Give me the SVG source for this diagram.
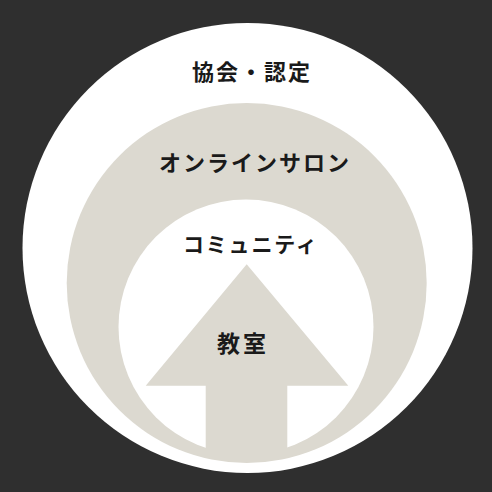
<svg xmlns="http://www.w3.org/2000/svg" width="492" height="492" viewBox="0 0 492 492">
<style>
.t{font-family:"Noto Sans CJK JP","Noto Sans",sans-serif;font-weight:700;font-size:22px;fill:#1a1a1a;letter-spacing:2px}
.beige{fill:#dcd9d0}
.white{fill:#ffffff}
</style>
<rect width="492" height="492" fill="#2f2f2f"/>
<g id="association">
<circle class="white" cx="247.5" cy="248" r="225"/>
<text class="t" x="192" y="80">協会・認定</text>
</g>
<g id="online-salon">
<circle class="beige" cx="246.7" cy="283" r="180"/>
<text class="t" x="159" y="171">オンラインサロン</text>
</g>
<g id="community">
<circle class="white" cx="246" cy="327" r="127.5"/>
<text class="t" x="183" y="252" style="font-size:21px;letter-spacing:1.8px">コミュニティ</text>
</g>
<g id="classroom">
<polygon class="beige" points="246.7,264.3 348.3,385.7 287.3,385.7 287.3,455 205.7,455 205.7,385.7 145.7,385.7"/>
<text class="t" x="217" y="352" style="font-size:23px;letter-spacing:3px">教室</text>
</g>
</svg>
